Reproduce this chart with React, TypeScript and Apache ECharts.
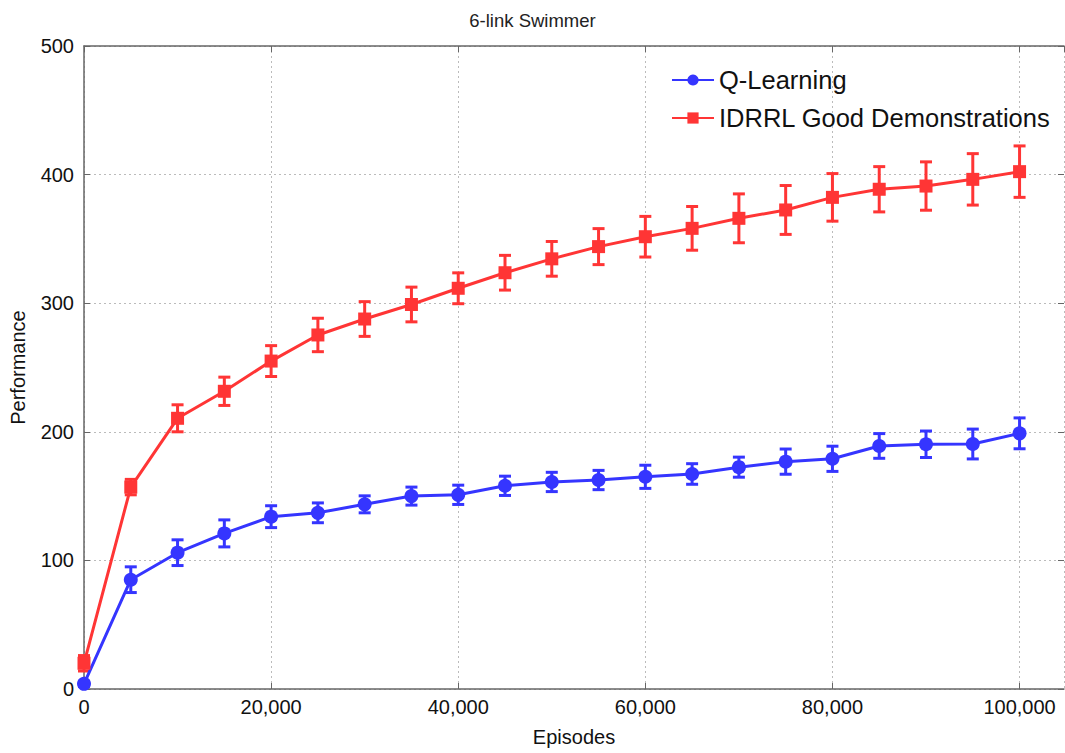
import React, { useEffect, useRef } from "react";
import * as echarts from "echarts";

const episodes = [0, 5000, 10000, 15000, 20000, 25000, 30000, 35000, 40000, 45000, 50000, 55000, 60000, 65000, 70000, 75000, 80000, 85000, 90000, 95000, 100000];
const qMean = [4, 85, 106, 121, 134, 137, 143.6, 150, 151, 158, 161, 162.5, 165, 167.2, 172.5, 176.8, 179, 189, 190.3, 190.5, 198.8];
const qErr = [2, 10, 10, 10.5, 8.5, 7.7, 6.6, 7, 7.5, 7.5, 7.5, 7.5, 9, 8, 7.8, 9.8, 9.8, 9.6, 10.3, 11.6, 12];
const iMean = [20, 157, 210.5, 231.5, 255, 275.3, 287.7, 299, 311.6, 323.7, 334.5, 344, 351.7, 358.2, 366, 372.5, 382.3, 388.6, 391.1, 396.3, 402.3];
const iErr = [6, 6, 10.5, 11, 12, 13, 13.5, 13.5, 12, 13.5, 13.5, 14, 15.8, 17, 19, 19, 18.5, 17.6, 18.8, 20, 20];
const yTicks = [0, 100, 200, 300, 400, 500];
const xTicks = [0, 20000, 40000, 60000, 80000, 100000];

const BLUE = "#3535ff";
const RED = "#ff3535";
const FONT = "Liberation Sans, Arial, sans-serif";

function errorBar(color: string) {
  return (params: any, api: any) => {
    const x = api.value(0);
    const lo = api.coord([x, api.value(1)]);
    const hi = api.coord([x, api.value(2)]);
    const hw = 6;
    const style = { stroke: color, lineWidth: 3 };
    return {
      type: "group",
      children: [
        { type: "line", shape: { x1: lo[0], y1: lo[1], x2: hi[0], y2: hi[1] }, style },
        { type: "line", shape: { x1: lo[0] - hw, y1: lo[1], x2: lo[0] + hw, y2: lo[1] }, style },
        { type: "line", shape: { x1: hi[0] - hw, y1: hi[1], x2: hi[0] + hw, y2: hi[1] }, style },
      ],
    };
  };
}

export default function App() {
  const ref = useRef<HTMLDivElement>(null);
  useEffect(() => {
    document.body.style.margin = "0";
    const chart = echarts.init(ref.current!, null, { renderer: "svg" });
    const qData = episodes.map((x, i) => [x, qMean[i]]);
    const iData = episodes.map((x, i) => [x, iMean[i]]);
    const qErrData = episodes.map((x, i) => [x, qMean[i] - qErr[i], qMean[i] + qErr[i]]);
    const iErrData = episodes.map((x, i) => [x, iMean[i] - iErr[i], iMean[i] + iErr[i]]);
    const axisLineStyle = { color: "#666", width: 1.5 };
    chart.setOption({
      animation: false,
      backgroundColor: "#fff",
      textStyle: { fontFamily: FONT },
      title: {
        text: "6-link Swimmer",
        left: "center",
        top: 6,
        textStyle: { fontFamily: FONT, fontSize: 18.5, fontWeight: "normal", color: "#222" },
      },
      legend: {
        data: ["Q-Learning", "IDRRL Good Demonstrations"],
        orient: "vertical",
        left: 666,
        top: 62,
        itemWidth: 42,
        itemHeight: 14,
        itemGap: 12,
        textStyle: { fontFamily: FONT, fontSize: 25.5, color: "#111" },
      },
      grid: { left: 83, top: 46, right: 1, bottom: 64, containLabel: false },
      xAxis: [
        {
          type: "value",
          min: 0,
          max: 104750,
          interval: 20000,
          name: "Episodes",
          nameLocation: "middle",
          nameGap: 38,
          nameTextStyle: { fontFamily: FONT, fontSize: 20, color: "#111" },
          axisLine: { show: true, onZero: false, lineStyle: axisLineStyle },
          axisTick: { show: true, inside: true, length: 6, lineStyle: { color: "#666" } },
          axisLabel: {
            fontFamily: FONT,
            fontSize: 20,
            color: "#111",
            margin: 8,
            showMaxLabel: false,
            formatter: (v: number) => (xTicks.includes(v) ? v.toLocaleString("en-US") : ""),
          },
          splitLine: { show: true, lineStyle: { color: "#bbb", type: [2, 3], width: 1 } },
        },
        {
          type: "value",
          position: "top",
          min: 0,
          max: 104750,
          interval: 20000,
          axisLine: { show: true, onZero: false, lineStyle: axisLineStyle },
          axisTick: { show: true, inside: true, length: 6, lineStyle: { color: "#666" } },
          axisLabel: { show: false },
          splitLine: { show: false },
          z: 5,
        },
      ],
      yAxis: [
        {
          type: "value",
          min: 0,
          max: 500,
          interval: 100,
          name: "Performance",
          nameLocation: "middle",
          nameGap: 56,
          nameRotate: 90,
          nameTextStyle: { fontFamily: FONT, fontSize: 20, color: "#111" },
          axisLine: { show: true, onZero: false, lineStyle: axisLineStyle },
          axisTick: { show: true, inside: true, length: 6, lineStyle: { color: "#666" } },
          axisLabel: {
            fontFamily: FONT,
            fontSize: 20,
            color: "#111",
            margin: 10,
            formatter: (v: number) => (yTicks.includes(v) ? String(v) : ""),
          },
          splitLine: { show: true, lineStyle: { color: "#bbb", type: [2, 3], width: 1 } },
        },
        {
          type: "value",
          position: "right",
          min: 0,
          max: 500,
          interval: 100,
          axisLine: { show: false, onZero: false },
          axisTick: { show: true, inside: true, length: 6, lineStyle: { color: "#666" } },
          axisLabel: { show: false },
          splitLine: { show: false },
        },
      ],
      series: [
        {
          name: "Q-Learning",
          type: "line",
          data: qData,
          color: BLUE,
          lineStyle: { width: 3, color: BLUE },
          symbol: "circle",
          symbolSize: 14,
          itemStyle: { color: BLUE },
          z: 3,
        },
        {
          name: "IDRRL Good Demonstrations",
          type: "line",
          data: iData,
          color: RED,
          lineStyle: { width: 3, color: RED },
          symbol: "rect",
          symbolSize: 13,
          itemStyle: { color: RED },
          z: 3,
        },
        {
          name: "qerr",
          type: "custom",
          data: qErrData,
          renderItem: errorBar(BLUE),
          encode: { x: 0, y: [1, 2] },
          z: 2,
        },
        {
          name: "ierr",
          type: "custom",
          data: iErrData,
          renderItem: errorBar(RED),
          encode: { x: 0, y: [1, 2] },
          z: 2,
        },
      ],
    });
    return () => chart.dispose();
  }, []);
  return <div ref={ref} style={{ width: 1065, height: 753 }} />;
}
